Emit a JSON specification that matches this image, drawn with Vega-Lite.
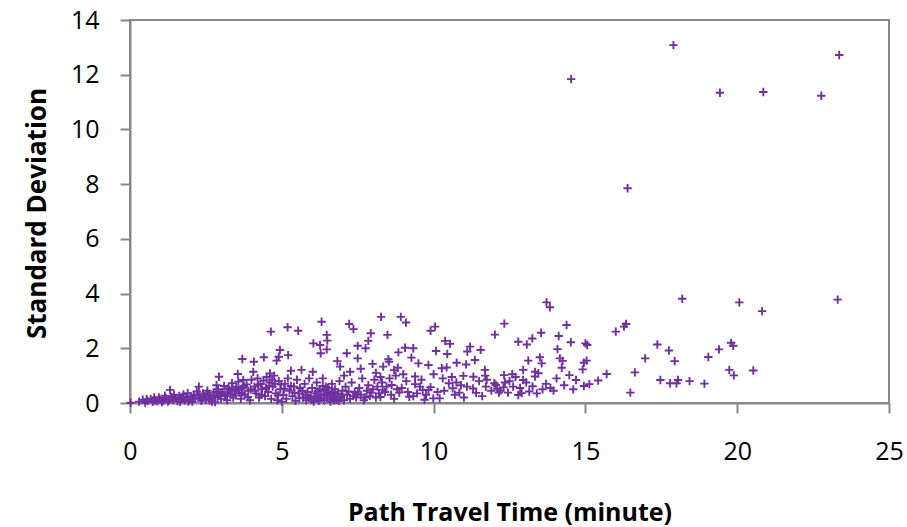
{
  "$schema": "https://vega.github.io/schema/vega-lite/v6.json",
  "width": 759,
  "height": 383,
  "autosize": {"type": "none"},
  "padding": {"left": 130, "top": 20, "right": 18, "bottom": 124},
  "background": "white",
  "config": {
    "view": {"stroke": "#888888", "strokeWidth": 2},
    "axis": {
      "grid": false,
      "domainColor": "#888888",
      "domainWidth": 2,
      "tickColor": "#888888",
      "tickWidth": 2,
      "tickSize": 10,
      "labelFlush": false,
      "labelFont": "Open Sans",
      "labelFontSize": 25,
      "labelColor": "#000000",
      "titleFont": "Open Sans",
      "titleFontWeight": "bold",
      "titleColor": "#000000"
    }
  },
  "data": {"values": [
    {"x":17.9,"y":13.08},{"x":23.36,"y":12.72},{"x":19.43,"y":11.34},{"x":20.86,"y":11.37},{"x":22.77,"y":11.23},{"x":16.39,"y":7.85},{"x":14.53,"y":11.84},
    {"x":18.19,"y":3.81},{"x":20.07,"y":3.68},{"x":20.82,"y":3.36},{"x":23.31,"y":3.78},{"x":16.0,"y":2.61},{"x":16.27,"y":2.79},{"x":16.34,"y":2.89},{"x":17.37,"y":2.14},{"x":17.75,"y":1.92},{"x":17.94,"y":1.53},{"x":16.97,"y":1.63},{"x":19.05,"y":1.68},{"x":19.4,"y":1.96},{"x":19.8,"y":2.2},{"x":19.87,"y":2.09},{"x":19.74,"y":1.21},{"x":19.89,"y":1.01},{"x":20.53,"y":1.19},{"x":15.7,"y":1.06},{"x":16.63,"y":1.12},{"x":16.48,"y":0.38},{"x":17.47,"y":0.84},{"x":17.79,"y":0.72},{"x":18.0,"y":0.72},{"x":18.05,"y":0.84},{"x":18.43,"y":0.8},{"x":18.92,"y":0.71},
    {"x":13.72,"y":3.68},{"x":13.83,"y":3.5},{"x":14.38,"y":2.85},{"x":12.33,"y":2.9},{"x":13.54,"y":2.57},{"x":12.02,"y":2.5},{"x":10.05,"y":2.79},{"x":9.9,"y":2.64},{"x":8.92,"y":3.15},{"x":9.09,"y":2.94},{"x":8.27,"y":3.15},{"x":8.48,"y":2.49},{"x":12.79,"y":2.24},{"x":13.07,"y":2.14},{"x":13.25,"y":2.36},{"x":14.12,"y":2.45},{"x":14.52,"y":2.22},{"x":15.0,"y":2.18},{"x":15.06,"y":2.12},{"x":10.38,"y":2.27},{"x":10.54,"y":2.16},{"x":11.2,"y":2.06},{"x":11.55,"y":1.94},{"x":9.06,"y":2.02},{"x":9.33,"y":2.0},{"x":8.84,"y":1.85},{"x":10.08,"y":1.9},{"x":10.45,"y":1.79},{"x":11.11,"y":1.88},{"x":9.27,"y":1.66},{"x":8.53,"y":1.51},{"x":8.34,"y":1.33},{"x":8.82,"y":1.29},{"x":9.5,"y":1.45},{"x":9.83,"y":1.39},{"x":10.27,"y":1.27},{"x":10.43,"y":1.3},{"x":10.76,"y":1.47},{"x":11.07,"y":1.41},{"x":11.36,"y":1.57},{"x":13.5,"y":1.67},{"x":13.56,"y":1.45},{"x":14.08,"y":1.97},{"x":14.16,"y":1.63},{"x":14.25,"y":1.54},{"x":14.22,"y":1.29},{"x":14.95,"y":1.47},{"x":15.04,"y":1.55},{"x":14.91,"y":1.23},{"x":13.12,"y":1.55},{"x":13.34,"y":1.14},{"x":13.45,"y":1.09},{"x":12.95,"y":1.21},{"x":11.69,"y":1.21},{"x":12.32,"y":1.02},{"x":12.59,"y":1.05},{"x":14.05,"y":0.9},{"x":14.47,"y":1.02},{"x":14.69,"y":0.84},{"x":14.95,"y":0.62},{"x":15.13,"y":0.69},{"x":15.42,"y":0.82},
    {"x":8.32,"y":0.48},{"x":8.62,"y":0.66},{"x":8.87,"y":0.38},{"x":9.2,"y":0.23},{"x":9.33,"y":0.25},{"x":9.39,"y":0.69},{"x":9.55,"y":0.6},{"x":9.64,"y":0.47},{"x":9.83,"y":0.48},{"x":9.99,"y":0.17},{"x":10.13,"y":0.4},{"x":10.2,"y":0.17},{"x":10.63,"y":0.54},{"x":10.85,"y":0.38},{"x":11.1,"y":0.6},{"x":11.31,"y":0.96},{"x":11.3,"y":0.53},{"x":11.4,"y":0.37},{"x":11.7,"y":1.0},{"x":11.72,"y":0.6},{"x":12.05,"y":0.66},{"x":12.15,"y":0.38},{"x":12.3,"y":0.57},{"x":12.45,"y":0.38},{"x":12.79,"y":0.29},{"x":12.9,"y":0.36},{"x":12.95,"y":0.84},{"x":13.05,"y":0.75},{"x":13.26,"y":0.61},{"x":13.34,"y":0.97},{"x":13.59,"y":0.5},{"x":10.98,"y":0.99},{"x":11.75,"y":0.85},{"x":12.0,"y":0.72},{"x":12.1,"y":0.52},{"x":12.2,"y":0.45},{"x":12.5,"y":0.8},{"x":12.62,"y":0.6},{"x":12.7,"y":0.95},{"x":9.6,"y":0.85},{"x":9.75,"y":0.3},{"x":9.9,"y":0.58},{"x":10.35,"y":0.45},{"x":10.5,"y":0.72},{"x":10.7,"y":0.3},{"x":10.9,"y":0.65},{"x":9.39,"y":0.97},{"x":10.0,"y":1.05},{"x":10.6,"y":0.95},{"x":11.9,"y":0.45},{"x":13.15,"y":0.42},{"x":13.7,"y":0.7},{"x":13.85,"y":0.55},
    {"x":4.64,"y":2.61},{"x":5.19,"y":2.77},{"x":5.54,"y":2.64},{"x":6.31,"y":2.97},{"x":6.48,"y":2.49},{"x":6.5,"y":2.28},{"x":6.04,"y":2.18},{"x":6.26,"y":2.12},{"x":6.28,"y":1.82},{"x":6.48,"y":1.96},{"x":7.22,"y":2.89},{"x":7.36,"y":2.7},{"x":7.93,"y":2.55},{"x":7.85,"y":2.27},{"x":7.76,"y":2.0},{"x":7.5,"y":2.09},{"x":7.14,"y":1.82},{"x":7.5,"y":1.63},{"x":6.83,"y":1.53},{"x":6.92,"y":1.33},{"x":7.25,"y":1.14},{"x":7.99,"y":1.43},{"x":8.51,"y":1.6},{"x":4.94,"y":1.94},{"x":4.9,"y":1.69},{"x":4.83,"y":1.55},{"x":5.21,"y":1.75},{"x":4.41,"y":1.67},{"x":4.08,"y":1.51},{"x":3.7,"y":1.61},{"x":4.06,"y":1.14},{"x":3.55,"y":1.06},{"x":2.93,"y":0.96},{"x":5.3,"y":1.18},{"x":5.65,"y":1.21},{"x":6.02,"y":1.14},{"x":6.35,"y":0.9},{"x":1.32,"y":0.48},{"x":2.27,"y":0.6},{"x":4.61,"y":1.08},{"x":3.57,"y":0.78},{"x":3.73,"y":0.84},{"x":2.85,"y":0.65},{"x":3.24,"y":0.54},
    {"x":0.02,"y":0.01},{"x":0.3,"y":0.05},{"x":0.42,"y":0.12},{"x":0.5,"y":0.02},{"x":0.58,"y":0.08},{"x":0.68,"y":0.15},{"x":0.75,"y":0.04},{"x":0.83,"y":0.1},{"x":0.9,"y":0.06},{"x":0.98,"y":0.13},{"x":1.05,"y":0.03},{"x":0.95,"y":0.2},{"x":1.1,"y":0.09},{"x":1.18,"y":0.17},{"x":1.25,"y":0.05},{"x":1.36,"y":0.22},{"x":1.42,"y":0.11},{"x":1.5,"y":0.18},{"x":1.56,"y":0.07},{"x":1.62,"y":0.26},{"x":1.7,"y":0.14},{"x":1.76,"y":0.31},{"x":1.8,"y":0.09},{"x":1.86,"y":0.2},{"x":1.9,"y":0.36},{"x":1.96,"y":0.12},{"x":2.0,"y":0.24},
    {"x":0.55,"y":0.14},{"x":0.8,"y":0.2},{"x":1.15,"y":0.27},{"x":1.3,"y":0.12},{"x":1.45,"y":0.3},{"x":1.65,"y":0.04},{"x":1.72,"y":0.22},{"x":1.92,"y":0.05},
    {"x":2.05,"y":0.05},{"x":2.1,"y":0.3},{"x":2.15,"y":0.15},{"x":2.2,"y":0.42},{"x":2.3,"y":0.2},{"x":2.35,"y":0.08},{"x":2.4,"y":0.35},{"x":2.45,"y":0.25},{"x":2.5,"y":0.12},{"x":2.55,"y":0.45},{"x":2.6,"y":0.3},{"x":2.65,"y":0.18},{"x":2.7,"y":0.05},{"x":2.75,"y":0.38},{"x":2.8,"y":0.03},{"x":2.88,"y":0.22},{"x":2.9,"y":0.5},{"x":2.96,"y":0.28},{"x":3.0,"y":0.15},
    {"x":2.08,"y":0.18},{"x":2.25,"y":0.28},{"x":2.38,"y":0.16},{"x":2.52,"y":0.33},{"x":2.62,"y":0.1},{"x":2.78,"y":0.25},{"x":2.84,"y":0.4},{"x":2.98,"y":0.35},
    {"x":3.05,"y":0.4},{"x":3.1,"y":0.62},{"x":3.15,"y":0.25},{"x":3.2,"y":0.1},{"x":3.28,"y":0.48},{"x":3.32,"y":0.32},{"x":3.36,"y":0.72},{"x":3.4,"y":0.2},{"x":3.45,"y":0.45},{"x":3.5,"y":0.6},{"x":3.6,"y":0.38},{"x":3.65,"y":0.15},{"x":3.7,"y":0.55},{"x":3.78,"y":0.3},{"x":3.84,"y":0.68},{"x":3.9,"y":0.45},{"x":3.95,"y":0.1},{"x":4.0,"y":0.85},
    {"x":3.12,"y":0.3},{"x":3.22,"y":0.38},{"x":3.38,"y":0.52},{"x":3.48,"y":0.28},{"x":3.55,"y":0.47},{"x":3.68,"y":0.36},{"x":3.75,"y":0.62},{"x":3.88,"y":0.22},{"x":3.98,"y":0.5},
    {"x":4.1,"y":0.6},{"x":4.15,"y":0.35},{"x":4.2,"y":0.9},{"x":4.25,"y":0.2},{"x":4.3,"y":0.7},{"x":4.35,"y":0.5},{"x":4.45,"y":0.25},{"x":4.5,"y":0.95},{"x":4.55,"y":0.4},{"x":4.6,"y":0.75},{"x":4.65,"y":0.15},{"x":4.7,"y":0.6},{"x":4.75,"y":1.0},{"x":4.8,"y":0.35},{"x":4.85,"y":0.1},{"x":4.9,"y":0.8},{"x":4.95,"y":0.5},{"x":5.0,"y":0.05},
    {"x":4.12,"y":0.45},{"x":4.22,"y":0.66},{"x":4.32,"y":0.3},{"x":4.4,"y":0.82},{"x":4.48,"y":0.55},{"x":4.58,"y":0.62},{"x":4.68,"y":0.85},{"x":4.78,"y":0.7},{"x":4.88,"y":0.28},{"x":4.98,"y":0.68},
    {"x":5.05,"y":0.3},{"x":5.1,"y":0.7},{"x":5.15,"y":0.15},{"x":5.2,"y":0.9},{"x":5.25,"y":0.45},{"x":5.35,"y":0.25},{"x":5.4,"y":0.6},{"x":5.45,"y":0.08},{"x":5.5,"y":0.85},{"x":5.55,"y":0.35},{"x":5.6,"y":0.55},{"x":5.7,"y":0.2},{"x":5.75,"y":0.7},{"x":5.8,"y":0.1},{"x":5.85,"y":0.4},{"x":5.9,"y":0.9},{"x":5.95,"y":0.25},{"x":6.0,"y":0.55},{"x":6.05,"y":0.05},{"x":6.1,"y":0.35},{"x":6.15,"y":0.75},{"x":6.2,"y":0.15},{"x":6.25,"y":0.5},{"x":6.3,"y":0.3},{"x":6.4,"y":0.1},{"x":6.45,"y":0.6},{"x":6.5,"y":0.2},{"x":6.55,"y":0.4},{"x":6.6,"y":0.05},{"x":6.65,"y":0.7},{"x":6.7,"y":0.25},{"x":6.75,"y":0.5},{"x":6.8,"y":0.12},{"x":6.85,"y":0.35},{"x":6.9,"y":0.8},{"x":6.95,"y":0.2},{"x":7.0,"y":0.45},
    {"x":5.88,"y":0.18},{"x":6.12,"y":0.22},{"x":6.22,"y":0.08},{"x":6.38,"y":0.28},{"x":6.42,"y":0.45},{"x":6.58,"y":0.15},{"x":6.62,"y":0.32},{"x":6.72,"y":0.1},{"x":6.78,"y":0.22},{"x":6.52,"y":0.55},{"x":6.35,"y":0.62},{"x":6.18,"y":0.42},
    {"x":5.08,"y":0.52},{"x":5.3,"y":0.62},{"x":5.42,"y":0.38},{"x":5.58,"y":0.18},{"x":5.68,"y":0.45},{"x":5.78,"y":0.3},{"x":5.98,"y":0.12},{"x":6.08,"y":0.22},{"x":6.28,"y":0.18},{"x":6.48,"y":0.35},{"x":6.68,"y":0.4},{"x":6.88,"y":0.08},{"x":6.98,"y":0.3},
    {"x":7.05,"y":0.1},{"x":7.1,"y":0.6},{"x":7.15,"y":0.3},{"x":7.25,"y":0.15},{"x":7.3,"y":0.75},{"x":7.4,"y":0.4},{"x":7.45,"y":0.2},{"x":7.55,"y":0.55},{"x":7.6,"y":0.3},{"x":7.65,"y":0.9},{"x":7.7,"y":0.1},{"x":7.8,"y":0.45},{"x":7.85,"y":0.65},{"x":7.9,"y":0.25},{"x":8.0,"y":0.5},{"x":8.05,"y":0.85},{"x":8.1,"y":0.2},{"x":8.15,"y":0.6},{"x":8.2,"y":0.35},{"x":8.3,"y":0.75},{"x":8.4,"y":0.4},{"x":8.55,"y":0.9},{"x":8.6,"y":0.3},{"x":8.7,"y":0.15},{"x":8.75,"y":1.0},{"x":8.95,"y":0.55},{"x":9.1,"y":0.8},{"x":9.15,"y":0.4},{"x":9.45,"y":0.35},{"x":9.7,"y":0.12},{"x":10.3,"y":0.9},{"x":10.75,"y":0.75},{"x":11.0,"y":0.2},{"x":11.5,"y":0.8},{"x":11.6,"y":0.25},{"x":12.35,"y":0.75},{"x":12.85,"y":0.55},{"x":13.4,"y":0.35},{"x":13.95,"y":0.45},{"x":14.3,"y":0.65},{"x":14.6,"y":0.5},
    {"x":7.2,"y":0.42},{"x":7.35,"y":0.25},{"x":7.5,"y":0.35},{"x":7.75,"y":0.2},{"x":7.95,"y":0.38},{"x":8.25,"y":0.22},{"x":8.45,"y":0.6},{"x":8.8,"y":0.5},
    {"x":7.05,"y":1.0},{"x":7.6,"y":1.25},{"x":8.1,"y":1.1},{"x":8.25,"y":0.95},{"x":8.7,"y":1.2},{"x":9.0,"y":1.05}
  ]},
  "mark": {
    "type": "point",
    "shape": "M-1,0H1M0,-1V1",
    "filled": false,
    "color": "#7030A0",
    "strokeWidth": 1.9,
    "size": 70,
    "opacity": 1
  },
  "encoding": {
    "x": {
      "field": "x",
      "type": "quantitative",
      "scale": {"domain": [0, 25], "nice": false, "zero": true},
      "axis": {
        "values": [0, 5, 10, 15, 20, 25],
        "title": "Path Travel Time (minute)",
        "titleFontSize": 25,
        "labelPadding": 26,
        "titleY": 117,
        "titleBaseline": "alphabetic"
      }
    },
    "y": {
      "field": "y",
      "type": "quantitative",
      "scale": {"domain": [0, 14], "nice": false, "zero": true},
      "axis": {
        "values": [0, 2, 4, 6, 8, 10, 12, 14],
        "title": "Standard Deviation",
        "titleFontSize": 26,
        "labelPadding": 21,
        "titleX": -85,
        "titleY": 193,
        "titleBaseline": "alphabetic"
      }
    }
  }
}
